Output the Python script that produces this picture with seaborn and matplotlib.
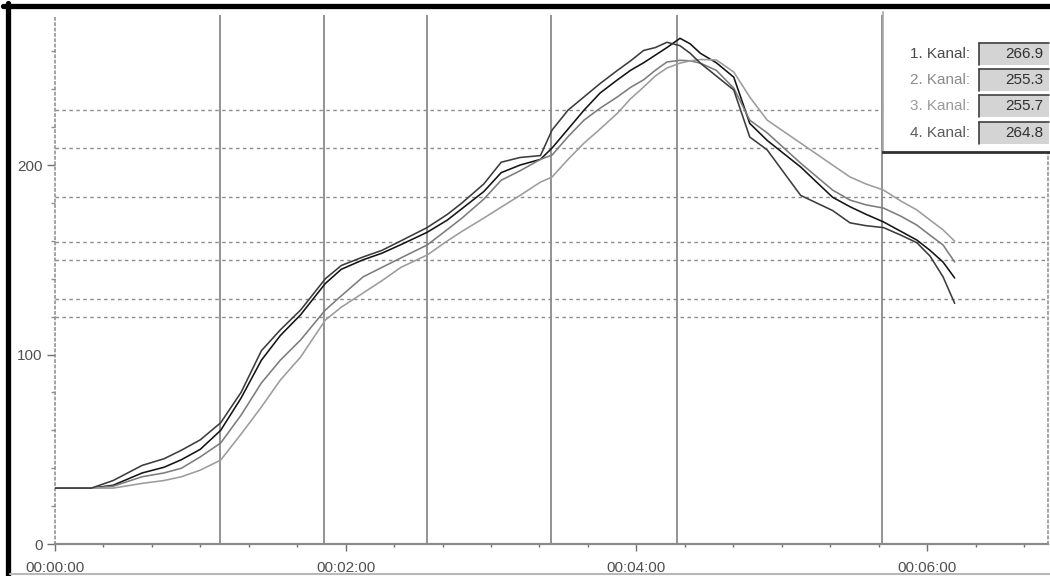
import matplotlib
matplotlib.use("Agg")
import matplotlib.pyplot as plt
import numpy as np
import pandas as pd
import seaborn as sns
from matplotlib.ticker import MultipleLocator, FixedLocator, FixedFormatter
from matplotlib.lines import Line2D
from matplotlib.patches import Rectangle

# ---------------- data (time in minutes) ----------------
minutes = [0, 0.25, 0.4, 0.6, 0.75, 0.87, 1.0, 1.14, 1.28, 1.42, 1.55, 1.69, 1.86, 1.97,
           2.12, 2.25, 2.38, 2.56, 2.7, 2.8, 2.95, 3.07, 3.2, 3.34, 3.42, 3.53, 3.64, 3.75,
           3.87, 3.96, 4.05, 4.13, 4.21, 4.3, 4.37, 4.44, 4.55, 4.67, 4.78, 4.9, 5.13, 5.35,
           5.47, 5.58, 5.7, 5.82, 5.93, 6.02, 6.11, 6.19]

kanal_1 = [29.5, 29.5, 31, 37.5, 40.5, 44.5, 50, 60, 77, 97, 110, 121, 137.5, 145,
           150, 153.5, 158, 164.5, 171, 177, 186, 196, 200, 203, 209, 219, 229, 238,
           245, 250, 254, 258, 262, 266.9, 264, 259, 254, 246.4, 222, 213, 199, 183,
           178, 174, 170, 165, 160.4, 155, 148.8, 140.4]

kanal_2 = [29.5, 29.5, 30.5, 35.5, 37.5, 40, 46, 53.3, 68, 85, 97, 107.7, 123.5, 131,
           141, 146, 151, 157.8, 166, 172, 182, 192, 197, 203, 205.3, 215, 223.7, 230,
           236, 241, 245, 250, 254.4, 255.3, 255, 253.8, 250, 240.6, 223.7, 217, 201, 186.8,
           181.5, 179, 177.3, 173, 168.3, 163, 157.8, 148.8]

kanal_3 = [29.5, 29.5, 29.5, 32, 33.5, 35.5, 39, 44.3, 58, 72.3, 86.5, 98.7, 118.2, 125,
           132.5, 139, 146, 152.5, 160, 165, 172, 177.8, 184, 191, 193.7, 203, 211.6, 219,
           227.4, 235, 241.2, 247, 251.2, 253.8, 255, 255.7, 255.5, 249.1, 235.9, 223.7, 211.6, 200,
           193.7, 190, 186.8, 181, 176.3, 171, 165.8, 159.8]

kanal_4 = [29.5, 29.5, 33.5, 41.5, 45, 49.5, 55, 64, 80, 102, 113, 123.5, 140, 147,
           151.5, 155, 160, 167, 174, 180, 190, 201.5, 204, 205, 218.5, 229, 236, 243,
           250, 255, 260.5, 262, 264.8, 263, 259, 253.8, 247, 239.6, 214.8, 208, 184, 176,
           169.5, 168, 167, 163, 159, 152, 141, 127]

channel_names = ["1. Kanal:", "2. Kanal:", "3. Kanal:", "4. Kanal:"]
channel_max = ["266.9", "255.3", "255.7", "264.8"]

threshold_levels = [229, 209, 183, 159.4, 150, 129.3, 119.8]
marker_minutes = [1.134, 1.849, 2.56, 3.414, 4.282, 5.69]

x_tick_values = [0, 2, 4, 6]
x_tick_labels = ["00:00:00", "00:02:00", "00:04:00", "00:06:00"]
y_tick_values = [0, 100, 200]

# ---------------- styling ----------------
sns.set_theme(style="white")
plt.rcParams["font.family"] = ["Liberation Sans", "DejaVu Sans"]

W, H = 1050, 576
fig = plt.figure(figsize=(W / 100, H / 100), dpi=100)
fig.patch.set_facecolor("white")


def fx(px):
    return px / W


def fy(py):
    return 1 - py / H


ax = fig.add_axes([fx(55), fy(544), fx(1048) - fx(55), fy(15) - fy(544)])
ax.set_facecolor("white")

frames = []
for name, vals in zip(["K1", "K2", "K3", "K4"], [kanal_1, kanal_2, kanal_3, kanal_4]):
    frames.append(pd.DataFrame({"minute": minutes, "value": vals, "channel": name}))
df = pd.concat(frames, ignore_index=True)

palette = {"K1": "#141414", "K2": "#7c7c7c", "K3": "#9c9c9c", "K4": "#3c3c3c"}

# reference grid lines
for lvl in threshold_levels:
    ax.axhline(lvl, color="#8c8c8c", lw=1.0, ls=(0, (2.5, 2.5)), zorder=1)
for m in marker_minutes:
    ax.axvline(m, color="#8a8a8a", lw=1.3, zorder=1)

sns.lineplot(data=df, x="minute", y="value", hue="channel", palette=palette,
             estimator=None, sort=False, legend=False, ax=ax, linewidth=1.15, zorder=3)

ax.set_xlim(0, 6.832)
ax.set_ylim(0, 279.2)
ax.set_xlabel("")
ax.set_ylabel("")

ax.xaxis.set_major_locator(FixedLocator(x_tick_values))
ax.xaxis.set_major_formatter(FixedFormatter(x_tick_labels))
ax.xaxis.set_minor_locator(MultipleLocator(1 / 3))
ax.yaxis.set_major_locator(FixedLocator(y_tick_values))
ax.yaxis.set_minor_locator(MultipleLocator(20))

ax.tick_params(axis="x", which="major", length=5, width=1, color="#707070", direction="out",
               pad=7, labelsize=11, labelcolor="#505050", bottom=True)
ax.tick_params(axis="x", which="minor", length=2.5, width=1, color="#707070", direction="out",
               bottom=True)
ax.tick_params(axis="y", which="major", length=6, width=1, color="#707070", direction="out",
               pad=3, labelsize=11, labelcolor="#505050", left=True)
ax.tick_params(axis="y", which="minor", length=3, width=1, color="#909090", direction="out",
               left=True)

for s in ["top"]:
    ax.spines[s].set_visible(False)
ax.spines["bottom"].set_color("#8a8a8a")
ax.spines["bottom"].set_linewidth(1.6)
for s in ["left", "right"]:
    ax.spines[s].set_visible(True)
    ax.spines[s].set_color("#8a8a8a")
    ax.spines[s].set_linewidth(1.1)
    ax.spines[s].set_linestyle((0, (1.5, 2.0)))

# ---------------- value panel ----------------
pax = fig.add_axes([fx(883), fy(152), fx(1050) - fx(883), fy(12) - fy(152)], zorder=5)
pax.set_xlim(883, 1050)
pax.set_ylim(152, 12)
pax.set_xticks([])
pax.set_yticks([])
pax.set_facecolor("white")
pax.spines["top"].set_visible(False)
pax.spines["right"].set_visible(False)
pax.spines["left"].set_color("#a8a8a8")
pax.spines["left"].set_linewidth(1.2)
pax.spines["bottom"].set_color("#303030")
pax.spines["bottom"].set_linewidth(2.0)

label_colors = ["#4a4a4a", "#8a8a8a", "#9a9a9a", "#5a5a5a"]
for i, (lab, val, col) in enumerate(zip(channel_names, channel_max, label_colors)):
    cy = 53.5 + 26.4 * i
    pax.text(970, cy, lab, ha="right", va="center", fontsize=11, color=col)
    pax.add_patch(Rectangle((979, cy - 11), 70, 22, facecolor="#d4d4d4", edgecolor="none"))
    pax.add_line(Line2D([979, 979], [cy - 11, cy + 11], color="#404040", lw=1.2))
    pax.add_line(Line2D([979, 1049], [cy - 11, cy - 11], color="#404040", lw=1.2))
    pax.text(1043, cy, val, ha="right", va="center", fontsize=11, color="#303030")

# ---------------- window frame ----------------
fig.add_artist(Line2D([fx(7.5), fx(7.5)], [fy(3), fy(576)], color="black", lw=3.8,
                      transform=fig.transFigure))
fig.add_artist(Line2D([fx(3), fx(1050)], [fy(5.5), fy(5.5)], color="black", lw=3.8,
                      transform=fig.transFigure))
fig.add_artist(Line2D([fx(10), fx(1050)], [fy(574), fy(574)], color="#b8b8b8", lw=1.5,
                      transform=fig.transFigure))

fig.savefig("out.png", dpi=100, facecolor="white")
